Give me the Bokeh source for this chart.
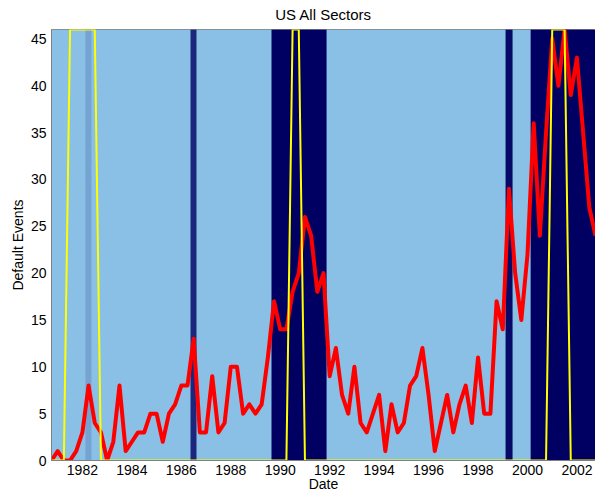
import numpy as np
from bokeh.plotting import figure
from bokeh.models import LinearColorMapper, FixedTicker, Range1d
from bokeh.embed import file_html
from bokeh.resources import INLINE

# ---- data (quarterly, starting 1980 Q4) ----
dates = [1980.75 + 0.25 * i for i in range(89)]

defaults = [0, 1, 0, 0, 1, 3, 8, 4, 3, 0,
            2, 8, 1, 2, 3, 3, 5, 5, 2, 5,
            6, 8, 8, 13, 3, 3, 9, 3, 4, 10,
            10, 5, 6, 5, 6, 11, 17, 14, 14, 18,
            20, 26, 24, 18, 20, 9, 12, 7, 5, 10,
            4, 3, 5, 7, 1, 6, 3, 4, 8, 9,
            12, 7, 1, 4, 7, 3, 6, 8, 4, 11,
            5, 5, 17, 14, 29, 20, 15, 22, 36, 24,
            35, 45, 40, 46, 39, 43, 35, 27, 24]

recession = [0, 0, 0, 1, 1, 1, 1, 1, 0, 0,
             0, 0, 0, 0, 0, 0, 0, 0, 0, 0,
             0, 0, 0, 0, 0, 0, 0, 0, 0, 0,
             0, 0, 0, 0, 0, 0, 0, 0, 0, 1,
             1, 0, 0, 0, 0, 0, 0, 0, 0, 0,
             0, 0, 0, 0, 0, 0, 0, 0, 0, 0,
             0, 0, 0, 0, 0, 0, 0, 0, 0, 0,
             0, 0, 0, 0, 0, 0, 0, 0, 0, 0,
             0, 1, 1, 1, 0, 0, 0, 0, 0]

regime = [0, 0, 0, 0, 0, 0, 0.15, 0, 0, 0,
          0, 0, 0, 0, 0, 0, 0, 0, 0, 0,
          0, 0, 0, 0.8, 0, 0, 0, 0, 0, 0,
          0, 0, 0, 0, 0, 0, 1, 1, 1, 1,
          1, 1, 1, 1, 1, 0, 0, 0, 0, 0,
          0, 0, 0, 0, 0, 0, 0, 0, 0, 0,
          0, 0, 0, 0, 0, 0, 0, 0, 0, 0,
          0, 0, 0, 0, 0.95, 0, 0, 0, 1, 1,
          1, 1, 1, 1, 1, 1, 1, 1, 1]

x_ticks = [1982, 1984, 1986, 1988, 1990, 1992, 1994, 1996, 1998, 2000, 2002]
y_ticks = [0, 5, 10, 15, 20, 25, 30, 35, 40, 45]
y_max = 46

# ---- style ----
light = (138, 192, 230)
navy = (0, 0, 98)
palette = []
for i in range(256):
    t = i / 255
    r, g, b = (round(light[j] + (navy[j] - light[j]) * t) for j in range(3))
    palette.append("#%02x%02x%02x" % (r, g, b))

FONT = "Liberation Sans"

p = figure(width=595, height=494,
           x_range=Range1d(1980.75, 2002.75), y_range=Range1d(0, y_max),
           output_backend="svg", toolbar_location=None,
           title="US All Sectors",
           min_border_left=51, min_border_right=0,
           min_border_top=29, min_border_bottom=34)

mapper = LinearColorMapper(palette=palette, low=0, high=1)
p.image(image=[np.array(regime, dtype=float).reshape(1, -1)],
        x=dates[0] - 0.125, y=0, dw=len(dates) * 0.25, dh=y_max,
        color_mapper=mapper)

p.line(dates, defaults, line_color="#FF0000", line_width=4, line_join="round")
p.line(dates, [v * y_max for v in recession], line_color="#FFFF00", line_width=2)

p.xgrid.visible = False
p.ygrid.visible = False
p.outline_line_color = "#808080"

p.title.align = "center"
p.title.vertical_align = "top"
p.title.text_font = FONT
p.title.text_font_size = "15px"
p.title.text_font_style = "normal"
p.title.text_color = "#000000"

for ax in (p.xaxis[0], p.yaxis[0]):
    ax.major_label_text_font = FONT
    ax.major_label_text_font_size = "14px"
    ax.major_label_text_color = "#000000"
    ax.major_label_text_line_height = 1.0
    ax.axis_label_text_font = FONT
    ax.axis_label_text_font_size = "14px"
    ax.axis_label_text_font_style = "normal"
    ax.axis_label_text_color = "#000000"
    ax.axis_label_text_line_height = 1.0
    ax.major_tick_line_color = None
    ax.minor_tick_line_color = None
    ax.major_tick_out = 0
    ax.major_tick_in = 0
    ax.axis_line_color = "#808080"

p.xaxis.ticker = FixedTicker(ticks=x_ticks)
p.yaxis.ticker = FixedTicker(ticks=y_ticks)
p.xaxis.axis_label = "Date"
p.yaxis.axis_label = "Default Events"
p.xaxis.major_label_standoff = 4
p.xaxis.axis_label_standoff = -2
p.yaxis.major_label_standoff = 5
p.yaxis.axis_label_standoff = 2

open("out.html", "w").write(file_html(p, INLINE))
